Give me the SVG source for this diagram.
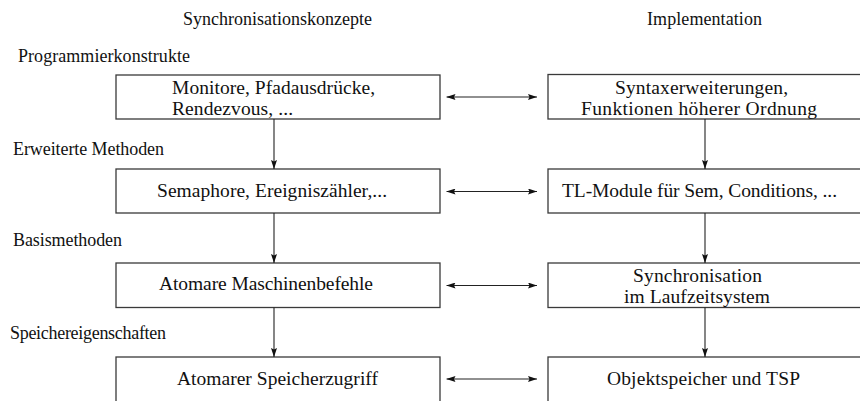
<svg xmlns="http://www.w3.org/2000/svg" width="860" height="401" viewBox="0 0 860 401">
  <style>
    text { font-family: "Liberation Serif", "Times New Roman", serif; font-size: 18px; fill: #111; }
    .in { font-size: 19.5px; }
    .box { fill: #fff; stroke: #3a3a3a; stroke-width: 1.3; }
    .link { stroke: #222; stroke-width: 1.1; fill: none; }
  </style>
  <defs>
    <marker id="head" viewBox="0 0 9 6" refX="9" refY="3" markerWidth="9" markerHeight="6" markerUnits="userSpaceOnUse" orient="auto-start-reverse">
      <path d="M0,0 L9,3 L0,6 L1.5,3 z" fill="#111"/>
    </marker>
  </defs>

  <rect width="860" height="401" fill="#fff"/>

  <!-- column headers -->
  <g id="headers">
    <text x="183" y="25" textLength="189">Synchronisationskonzepte</text>
    <text x="647" y="25" textLength="115">Implementation</text>
  </g>

  <!-- level labels -->
  <g id="levels">
    <text x="18" y="62" textLength="172">Programmierkonstrukte</text>
    <text x="13" y="155" textLength="151">Erweiterte Methoden</text>
    <text x="13" y="246" textLength="109">Basismethoden</text>
    <text x="10" y="339" textLength="156">Speichereigenschaften</text>
  </g>

  <!-- concept column -->
  <g id="c-prog">
    <rect class="box" x="116" y="75" width="324" height="44"/>
    <text class="in" x="172" y="94" textLength="203">Monitore, Pfadausdrücke,</text>
    <text class="in" x="172" y="115" textLength="121">Rendezvous, ...</text>
  </g>
  <g id="c-ext">
    <rect class="box" x="116" y="169" width="324" height="44"/>
    <text class="in" x="157" y="197" textLength="230">Semaphore, Ereigniszähler,...</text>
  </g>
  <g id="c-basic">
    <rect class="box" x="116" y="263" width="324" height="44.5"/>
    <text class="in" x="159" y="290" textLength="214">Atomare Maschinenbefehle</text>
  </g>
  <g id="c-mem">
    <rect class="box" x="116" y="357" width="324" height="60"/>
    <text class="in" x="177" y="385" textLength="201">Atomarer Speicherzugriff</text>
  </g>

  <!-- implementation column -->
  <g id="i-prog">
    <rect class="box" x="548" y="74.5" width="330" height="44.5"/>
    <text class="in" x="615" y="94" textLength="173">Syntaxerweiterungen,</text>
    <text class="in" x="581" y="115" textLength="236">Funktionen höherer Ordnung</text>
  </g>
  <g id="i-ext">
    <rect class="box" x="548" y="169" width="330" height="44"/>
    <text class="in" x="562" y="197" textLength="275">TL-Module für Sem, Conditions, ...</text>
  </g>
  <g id="i-basic">
    <rect class="box" x="548" y="263" width="330" height="44.5"/>
    <text class="in" x="633" y="282" textLength="129">Synchronisation</text>
    <text class="in" x="624" y="303" textLength="146">im Laufzeitsystem</text>
  </g>
  <g id="i-mem">
    <rect class="box" x="548" y="357" width="330" height="60"/>
    <text class="in" x="607" y="385" textLength="193">Objektspeicher und TSP</text>
  </g>

  <!-- connectors -->
  <g id="connectors">
    <line class="link" x1="274" y1="119" x2="274" y2="169" marker-end="url(#head)"/>
    <line class="link" x1="274" y1="213" x2="274" y2="263" marker-end="url(#head)"/>
    <line class="link" x1="274" y1="307.5" x2="274" y2="357" marker-end="url(#head)"/>
    <line class="link" x1="705" y1="119" x2="705" y2="169" marker-end="url(#head)"/>
    <line class="link" x1="705" y1="213" x2="705" y2="263" marker-end="url(#head)"/>
    <line class="link" x1="705" y1="307.5" x2="705" y2="357" marker-end="url(#head)"/>

    <line class="link" x1="446.5" y1="97" x2="537" y2="97" marker-start="url(#head)" marker-end="url(#head)"/>
    <line class="link" x1="446.5" y1="191.5" x2="537" y2="191.5" marker-start="url(#head)" marker-end="url(#head)"/>
    <line class="link" x1="446.5" y1="285.5" x2="537" y2="285.5" marker-start="url(#head)" marker-end="url(#head)"/>
    <line class="link" x1="446.5" y1="379" x2="537" y2="379" marker-start="url(#head)" marker-end="url(#head)"/>
  </g>
</svg>
